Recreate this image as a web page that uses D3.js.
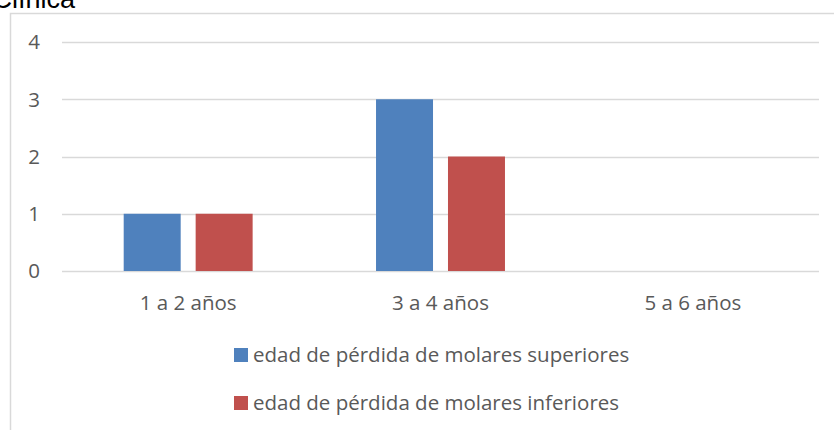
<!DOCTYPE html>
<html>
<head>
<meta charset="utf-8">
<script src="https://cdn.jsdelivr.net/npm/d3@7"></script>
<style>
    body { margin: 0; background: #fff; }
    svg { display: block; }
</style>
</head>
<body>
<div id="chart"></div>
<script>
// Chart data
const categories = ['1 a 2 años', '3 a 4 años', '5 a 6 años'];
const seriesNames = ['edad de pérdida de molares superiores', 'edad de pérdida de molares inferiores'];
const superiores = [1, 3, 0];
const inferiores = [1, 2, 0];
const yTicks = [0, 1, 2, 3, 4];
const colors = ['#4F81BD', '#C0504D'];

const width = 834;
const height = 430;
const font = '"Open Sans", "Liberation Sans", Arial, sans-serif';
const fontSize = 20.5;
const textColor = '#595959';

const svg = d3.select('#chart')
    .append('svg')
    .attr('width', width)
    .attr('height', height);

// Cut-off title above the chart frame
svg.append('text')
    .attr('x', 75)
    .attr('y', 8)
    .attr('text-anchor', 'end')
    .attr('font-family', '"Liberation Sans", Arial, sans-serif')
    .attr('font-size', 27)
    .attr('fill', '#000')
    .text('Clínica');

// Chart frame (left and top edges visible)
svg.append('path')
    .attr('d', `M10.5,${height} V13.5 H${width}`)
    .attr('fill', 'none')
    .attr('stroke', '#D9D9D9')
    .attr('stroke-width', 1.5);

// Scales
const x0 = d3.scaleBand()
    .domain(categories)
    .range([62, 819])
    .paddingInner(0.489)
    .paddingOuter(0.489 / 2);

const x1 = d3.scaleBand()
    .domain(seriesNames)
    .range([0, x0.bandwidth()])
    .paddingInner(0.208);

const y = d3.scaleLinear()
    .domain([0, 4])
    .range([271, 42]);

// Gridlines
svg.append('g')
    .selectAll('line')
    .data(yTicks)
    .enter()
    .append('line')
    .attr('x1', 62)
    .attr('x2', 819)
    .attr('y1', d => Math.round(y(d)) + 0.5)
    .attr('y2', d => Math.round(y(d)) + 0.5)
    .attr('stroke', '#D9D9D9')
    .attr('stroke-width', 1.5);

// Y labels
svg.append('g')
    .selectAll('text')
    .data(yTicks)
    .enter()
    .append('text')
    .attr('x', 40)
    .attr('y', d => y(d))
    .attr('dy', '0.36em')
    .attr('text-anchor', 'end')
    .attr('font-family', font)
    .attr('font-size', fontSize)
    .attr('fill', textColor)
    .text(d => d);

// Category labels
svg.append('g')
    .selectAll('text')
    .data(categories)
    .enter()
    .append('text')
    .attr('x', d => x0(d) + x0.bandwidth() / 2)
    .attr('y', 310)
    .attr('text-anchor', 'middle')
    .attr('font-family', font)
    .attr('font-size', fontSize)
    .attr('fill', textColor)
    .text(d => d);

// Bars
const rows = categories.map((c, i) => ({
    category: c,
    values: [
        {series: seriesNames[0], value: superiores[i], color: colors[0]},
        {series: seriesNames[1], value: inferiores[i], color: colors[1]}
    ]
}));

svg.append('g')
    .selectAll('g')
    .data(rows)
    .enter()
    .append('g')
    .attr('transform', d => `translate(${x0(d.category)},0)`)
    .selectAll('rect')
    .data(d => d.values.filter(v => v.value > 0))
    .enter()
    .append('rect')
    .attr('x', d => x1(d.series))
    .attr('y', d => y(d.value))
    .attr('width', x1.bandwidth())
    .attr('height', d => y(0) - y(d.value))
    .attr('fill', d => d.color);

// Legend
const legend = svg.append('g')
    .selectAll('g')
    .data(seriesNames)
    .enter()
    .append('g')
    .attr('transform', (d, i) => `translate(234,${355 + i * 48})`);

legend.append('rect')
    .attr('x', 0)
    .attr('y', -7)
    .attr('width', 14)
    .attr('height', 14)
    .attr('fill', (d, i) => colors[i]);

legend.append('text')
    .attr('x', 19)
    .attr('y', 0)
    .attr('dy', '0.36em')
    .attr('font-family', font)
    .attr('font-size', fontSize)
    .attr('fill', textColor)
    .text(d => d);
</script>
</body>
</html>
